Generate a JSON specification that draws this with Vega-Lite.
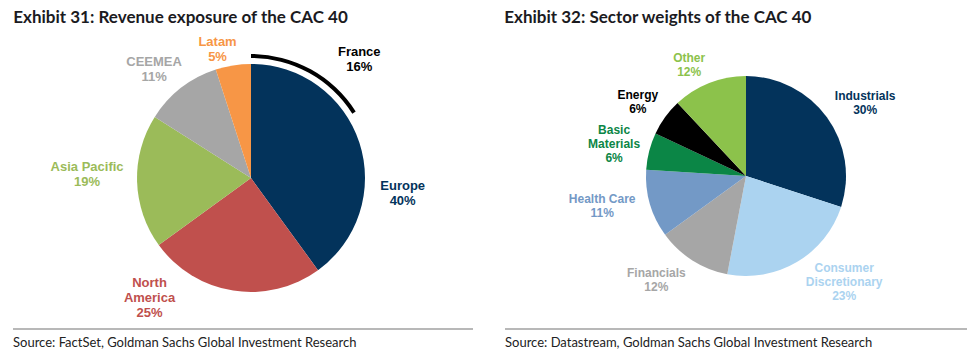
{
  "$schema": "https://vega.github.io/schema/vega-lite/v6.json",
  "background": "white",
  "padding": {"left": 12, "top": 9, "right": 2, "bottom": 2},
  "spacing": 15,
  "config": {"view": {"stroke": null}},
  "resolve": {"scale": {"color": "independent", "theta": "independent"}},
  "hconcat": [
    {
      "width": 476,
      "height": 302,
      "title": {"text": "Exhibit 31: Revenue exposure of the CAC 40", "anchor": "start", "font": "Lato", "fontSize": 17, "fontWeight": "bold", "color": "#1b1b1f", "baseline": "alphabetic", "offset": -13, "dx": 1},
      "layer": [
        {
          "data": {"values": [
            {"region": "Europe", "value": 40, "rank": 1, "label": "Europe\n40%"},
            {"region": "North America", "value": 25, "rank": 2, "label": "North\nAmerica\n25%"},
            {"region": "Asia Pacific", "value": 19, "rank": 3, "label": "Asia Pacific\n19%"},
            {"region": "CEEMEA", "value": 11, "rank": 4, "label": "CEEMEA\n11%"},
            {"region": "Latam", "value": 5, "rank": 5, "label": "Latam\n5%"}
          ]},
          "layer": [
            {
              "mark": {"type": "arc", "radius": 114},
              "encoding": {
                "theta": {"field": "value", "type": "quantitative", "stack": true, "scale": {"domain": [0, 100]}},
                "order": {"field": "rank", "type": "quantitative"},
                "color": {"field": "region", "type": "nominal", "legend": null,
                  "scale": {"domain": ["Europe", "North America", "Asia Pacific", "CEEMEA", "Latam"], "range": ["#03335b", "#c0504d", "#9bbb59", "#a6a6a6", "#f79646"]}}
              }
            },
            {
              "mark": {"type": "text", "radius": 150, "font": "Liberation Sans", "fontSize": 13, "fontWeight": "bold", "lineBreak": "\n", "lineHeight": 15, "align": "center", "baseline": "middle",
                "dx": {"expr": "datum.region === 'Europe' ? 9 : datum.region === 'North America' ? -78 : datum.region === 'Asia Pacific' ? -14 : datum.region === 'CEEMEA' ? -5 : -10"},
                "dy": {"expr": "datum.region === 'Europe' ? 54.5 : datum.region === 'North America' ? -43 : datum.region === 'Asia Pacific' ? -15.5 : datum.region === 'CEEMEA' ? 2.5 : 12.5"}},
              "encoding": {
                "theta": {"field": "value", "type": "quantitative", "stack": true},
                "order": {"field": "rank", "type": "quantitative"},
                "color": {"field": "region", "type": "nominal", "legend": null},
                "text": {"field": "label", "type": "nominal"}
              }
            }
          ]
        },
        {
          "data": {"values": [{"region": "France", "value": 16, "label": "France\n16%"}]},
          "layer": [
            {
              "mark": {"type": "arc", "radius": 124, "radius2": 120, "color": "#000000"},
              "encoding": {"theta": {"field": "value", "type": "quantitative", "stack": true}}
            },
            {
              "mark": {"type": "text", "radius": 150, "font": "Liberation Sans", "fontSize": 13, "fontWeight": "bold", "lineBreak": "\n", "lineHeight": 15, "align": "center", "baseline": "middle", "color": "#000000", "dx": 36, "dy": 5.5},
              "encoding": {"theta": {"field": "value", "type": "quantitative", "stack": true}, "text": {"field": "label", "type": "nominal"}}
            }
          ]
        },
        {
          "data": {"values": [{"source": "Source: FactSet, Goldman Sachs Global Investment Research"}]},
          "layer": [
            {
              "mark": {"type": "rule", "color": "#a0a0a0", "strokeWidth": 1.5},
              "encoding": {"x": {"value": 0}, "x2": {"value": 460}, "y": {"value": 302}}
            },
            {
              "mark": {"type": "text", "align": "left", "baseline": "alphabetic", "font": "Lato", "fontSize": 13, "color": "#222222"},
              "encoding": {"text": {"field": "source", "type": "nominal"}, "x": {"value": 0}, "y": {"value": 320}}
            }
          ]
        }
      ]
    },
    {
      "width": 464,
      "height": 302,
      "title": {"text": "Exhibit 32: Sector weights of the CAC 40", "anchor": "start", "font": "Lato", "fontSize": 17, "fontWeight": "bold", "color": "#1b1b1f", "baseline": "alphabetic", "offset": -13, "dx": 0},
      "layer": [
        {
          "data": {"values": [
            {"sector": "Industrials", "value": 30, "rank": 1, "label": "Industrials\n30%"},
            {"sector": "Consumer Discretionary", "value": 23, "rank": 2, "label": "Consumer\nDiscretionary\n23%"},
            {"sector": "Financials", "value": 12, "rank": 3, "label": "Financials\n12%"},
            {"sector": "Health Care", "value": 11, "rank": 4, "label": "Health Care\n11%"},
            {"sector": "Basic Materials", "value": 6, "rank": 5, "label": "Basic\nMaterials\n6%"},
            {"sector": "Energy", "value": 6, "rank": 6, "label": "Energy\n6%"},
            {"sector": "Other", "value": 12, "rank": 7, "label": "Other\n12%"}
          ]},
          "layer": [
            {
              "mark": {"type": "arc", "radius": 100, "x": 241, "y": 149},
              "encoding": {
                "theta": {"field": "value", "type": "quantitative", "stack": true, "scale": {"domain": [0, 100]}},
                "order": {"field": "rank", "type": "quantitative"},
                "color": {"field": "sector", "type": "nominal", "legend": null,
                  "scale": {"domain": ["Industrials", "Consumer Discretionary", "Financials", "Health Care", "Basic Materials", "Energy", "Other"], "range": ["#03335b", "#abd3f0", "#a6a6a6", "#7399c6", "#0b8646", "#000000", "#8cc24b"]}}
              }
            },
            {
              "mark": {"type": "text", "radius": 130, "x": 241, "y": 149, "font": "Liberation Sans", "fontSize": 12, "fontWeight": "bold", "lineBreak": "\n", "lineHeight": 14, "align": "center", "baseline": "middle",
                "dx": {"expr": "datum.sector === 'Industrials' ? 14 : datum.sector === 'Consumer Discretionary' ? 32 : datum.sector === 'Financials' ? -20 : datum.sector === 'Health Care' ? -19 : datum.sector === 'Basic Materials' ? -6 : datum.sector === 'Energy' ? -3 : -9"},
                "dy": {"expr": "datum.sector === 'Industrials' ? -4 : datum.sector === 'Consumer Discretionary' ? -20 : datum.sector === 'Financials' ? -13 : datum.sector === 'Health Care' ? -13 : datum.sector === 'Basic Materials' ? -14 : datum.sector === 'Energy' ? -5 : 3"}},
              "encoding": {
                "theta": {"field": "value", "type": "quantitative", "stack": true},
                "order": {"field": "rank", "type": "quantitative"},
                "color": {"field": "sector", "type": "nominal", "legend": null},
                "text": {"field": "label", "type": "nominal"}
              }
            }
          ]
        },
        {
          "data": {"values": [{"source": "Source: Datastream, Goldman Sachs Global Investment Research"}]},
          "layer": [
            {
              "mark": {"type": "rule", "color": "#a0a0a0", "strokeWidth": 1.5},
              "encoding": {"x": {"value": 0}, "x2": {"value": 462}, "y": {"value": 302}}
            },
            {
              "mark": {"type": "text", "align": "left", "baseline": "alphabetic", "font": "Lato", "fontSize": 13, "color": "#222222"},
              "encoding": {"text": {"field": "source", "type": "nominal"}, "x": {"value": 0}, "y": {"value": 320}}
            }
          ]
        }
      ]
    }
  ]
}
